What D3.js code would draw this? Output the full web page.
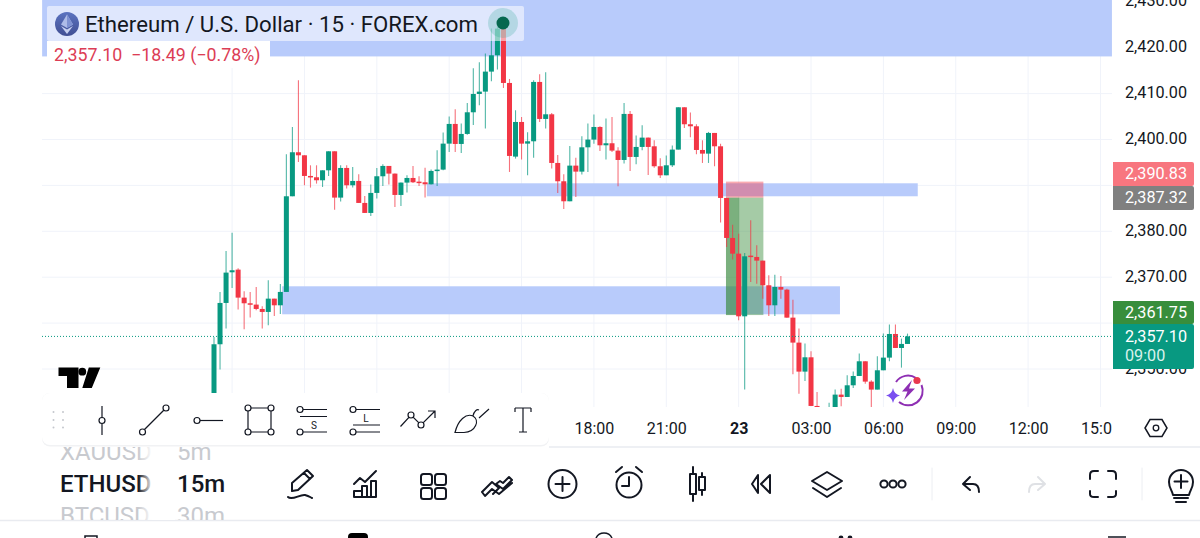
<!DOCTYPE html>
<html><head><meta charset="utf-8">
<script src="https://cdnjs.cloudflare.com/ajax/libs/d3/7.8.5/d3.min.js"></script>
<style>html,body{margin:0;padding:0;background:#fff}svg{display:block;font-family:Roboto,sans-serif}</style>
</head><body><div id="chart"></div>
<script>
const title = "Ethereum / U.S. Dollar · 15 · FOREX.com";
const legendValues = "2,357.10  −18.49 (−0.78%)";
const priceTicks = [2430,2420,2410,2400,2390,2380,2370,2360,2350];
const priceTickLabels = [2430,2420,2410,2400,2380,2370,2350];
const timeTickIndex = [63,75,87,99,111,123,135,147];
const timeTickLabels = ["18:00","21:00","23","03:00","06:00","09:00","12:00","15:00"];
const gridIndex = [3,15,27,39,51,63,75,87,99,111,123,135,147];
const opens = [2342,2355.39,2364.39,2371.07,2371.65,2365.55,2364.32,2364.03,2363.08,2362.43,2365.33,2363.88,2366.79,2387.63,2397.22,2396.56,2392.06,2391.77,2391.12,2393.29,2397.43,2387.34,2393.8,2390.03,2390.97,2386.18,2384,2388.36,2391.99,2394.24,2392.57,2387.92,2390.61,2391.62,2390.82,2390.68,2390.24,2393.15,2393.44,2399.1,2403.39,2399.03,2401.21,2405.93,2409.92,2410.43,2414.79,2418.35,2424.16,2412.32,2396.27,2403.82,2399.1,2399.61,2412.54,2404.48,2405.49,2394.89,2390.9,2386.54,2394.31,2393,2398.3,2399.98,2402.73,2398.74,2399.18,2397.58,2395.54,2405.57,2396.2,2398.38,2400.41,2398.52,2394.17,2392.2,2394.38,2397.8,2407.02,2403.32,2402.88,2397.72,2396.92,2401.43,2398.52,2387.26,2378.55,2375.13,2361.48,2374.7,2374.41,2373.61,2368.24,2363.88,2367.87,2367.29,2361.19,2355.75,2349.43,2352.55,2341.95,2341,2339,2341.5,2344.42,2343.91,2346.45,2348.48,2351.68,2347.25,2345.51,2349.72,2352.48,2357.63,2354.58,2355.46];
const closes = [2355.39,2364.39,2371,2371.51,2365.55,2364.32,2364.03,2363.08,2362.43,2365.33,2363.88,2366.79,2387.63,2397.22,2396.56,2392.06,2391.77,2391.12,2393.29,2397.43,2387.34,2393.8,2390.03,2390.97,2386.18,2384,2388.36,2391.99,2394.24,2392.57,2387.92,2390.61,2391.62,2390.68,2390.68,2390.24,2393.15,2393.44,2399.1,2403.39,2399.03,2401.21,2405.93,2409.92,2410.43,2414.79,2418.35,2424.16,2412.32,2396.42,2403.82,2399.1,2399.61,2412.54,2404.48,2405.49,2394.89,2390.9,2386.54,2394.31,2393,2398.3,2399.98,2402.73,2398.74,2399.18,2397.58,2395.54,2405.57,2396.2,2398.38,2400.41,2398.38,2394.17,2392.2,2394.38,2397.8,2407.02,2403.32,2402.88,2397.72,2396.92,2401.43,2398.52,2387.27,2378.55,2375.13,2361.48,2374.55,2374.41,2373.61,2368.24,2363.88,2367.87,2367.29,2361.19,2355.75,2349.43,2352.55,2341.95,2341.5,2339,2341.5,2344.42,2343.91,2346.45,2348.48,2351.68,2347.25,2345.51,2349.72,2352.48,2357.63,2354.58,2355.46,2357.1];
const highs = [2356.98,2366.79,2375.72,2379.71,2371.94,2366.93,2366.79,2367.88,2363.66,2369.33,2365.33,2368.53,2396.78,2402.73,2412.9,2396.56,2394.38,2394.38,2393.29,2397.43,2397.43,2394.38,2394.38,2394.02,2392.42,2387.7,2390.17,2393.8,2394.6,2394.24,2392.57,2390.61,2392.2,2394.24,2391.99,2393.87,2393.44,2397.65,2401.5,2404.99,2406.58,2403.46,2407.96,2415.52,2416.82,2418.71,2424.16,2425.25,2425.25,2413.19,2406.37,2404.91,2401.57,2412.9,2414.21,2414.64,2405.78,2396.63,2392.42,2398.6,2396.05,2400.7,2403.46,2405.42,2402.88,2404.55,2404.91,2398.3,2407.96,2406.22,2400.85,2403.1,2400.41,2399.83,2395.91,2396.49,2398.67,2407.02,2407.02,2405.86,2403.32,2399.83,2401.65,2401.43,2399.1,2387.26,2381.45,2379.49,2375.28,2382.4,2376.95,2373.61,2370.41,2370.56,2370.27,2367.51,2365.11,2358.8,2355.53,2353.86,2345,2341.3,2342.67,2345.51,2345.72,2348.63,2349.43,2353.35,2351.68,2347.54,2352.77,2357.71,2359.67,2359.67,2356.62,2357.71];
const lows = [2338,2349.87,2358.8,2367.66,2362.94,2358.65,2361.2,2362.79,2358.8,2359.53,2361.56,2362,2366.79,2387.63,2395.11,2390.03,2389.52,2390.39,2389.66,2392.06,2384.72,2386.47,2389.3,2389.52,2386.18,2384,2383.35,2387.12,2389.88,2390.17,2385.31,2385.52,2388.43,2390.53,2389.88,2387.34,2390.17,2389.88,2393.29,2397.29,2397.29,2397.07,2401.06,2403.17,2407.45,2402.37,2412.68,2415.23,2411.23,2392.93,2395.84,2395.62,2392.2,2396.05,2403.82,2402.37,2393.66,2388.36,2384.87,2386.54,2387.48,2392.35,2392.93,2399.1,2397.51,2395.62,2397.29,2389.81,2394.75,2393.15,2394.6,2397.65,2392.28,2393.87,2391.62,2392.2,2394.02,2397.8,2402.52,2400.48,2396.78,2394.89,2394.89,2394.17,2381.89,2376.59,2373.83,2360.61,2345.51,2368.96,2368.6,2365.33,2361.55,2361.55,2365.33,2361.19,2348.85,2344.63,2347.39,2341.95,2340.5,2338,2338.5,2340.5,2341.88,2343.91,2345.87,2348.48,2346.81,2340.5,2345.51,2349.72,2351.68,2354.58,2350.3,2355.46];
const zoneNames = ["upper","middle","lower"];
const zoneStart = [-28.5,35.3,11.3];
const zoneEnd = [148.9,116.7,103.8];
const zoneTop = [2431,2390.46,2368.02];
const zoneBottom = [2418.1,2387.63,2361.92];
const stopPrice = 2390.83, entryPrice = 2387.32, targetPrice = 2361.75, lastPrice = 2357.10;
const positionStart = 84.9, positionEnd = 91.1, positionInnerEnd = 87.1;
const tools = ["XAUUSD","ETHUSD","BTCUSD"];
const intervals = ["5m","15m","30m"];

const W=1200,H=538, INK="#131722", UP="#089981", DOWN="#f23645";
const svg=d3.select("#chart").append("svg").attr("width",W).attr("height",H);
const defs=svg.append("defs");
defs.append("clipPath").attr("id","pane").append("rect").attr("x",42).attr("y",0).attr("width",1070).attr("height",407);
defs.append("clipPath").attr("id","timeclip").append("rect").attr("x",0).attr("y",407).attr("width",1112).attr("height",40);
defs.append("clipPath").attr("id","list").append("rect").attr("x",50).attr("y",447).attr("width",190).attr("height",73);
const fade=defs.append("linearGradient").attr("id","fade");
fade.append("stop").attr("offset","0").attr("stop-color","#fff").attr("stop-opacity",0);
fade.append("stop").attr("offset","1").attr("stop-color","#fff");
const grad=defs.append("linearGradient").attr("id","eth").attr("x1",0).attr("y1",0).attr("x2",0).attr("y2",1);
grad.append("stop").attr("offset","0").attr("stop-color","#5b73c0");
grad.append("stop").attr("offset","1").attr("stop-color","#414f94");

const x=d3.scaleLinear().domain([0,115]).range([214,907.5]);
const y=d3.scaleLinear().domain([2350,2420]).range([369,47.7]);
const candles=opens.map((o,i)=>({i,o,c:closes[i],h:highs[i],l:lows[i]}));

const pane=svg.append("g").attr("clip-path","url(#pane)");
pane.append("g").selectAll("line").data(priceTicks).join("line")
 .attr("x1",42).attr("x2",1112).attr("y1",d=>y(d)).attr("y2",d=>y(d)).attr("stroke","#f0f3fa");
pane.append("g").selectAll("line").data(gridIndex).join("line")
 .attr("x1",d=>x(d)).attr("x2",d=>x(d)).attr("y1",0).attr("y2",407).attr("stroke","#f0f3fa");

pane.append("g").selectAll("rect").data(zoneNames).join("rect")
 .attr("x",(d,i)=>x(zoneStart[i])).attr("width",(d,i)=>x(zoneEnd[i])-x(zoneStart[i]))
 .attr("y",(d,i)=>y(zoneTop[i])).attr("height",(d,i)=>y(zoneBottom[i])-y(zoneTop[i]))
 .attr("fill","#b8cbfb");

const pos=pane.append("g");
pos.append("rect").attr("x",x(positionStart)).attr("width",x(positionEnd)-x(positionStart))
 .attr("y",y(stopPrice)).attr("height",y(entryPrice)-y(stopPrice)).attr("fill","#f23645").attr("fill-opacity",.42);
pos.append("rect").attr("x",x(positionStart)).attr("width",x(positionEnd)-x(positionStart))
 .attr("y",y(entryPrice)).attr("height",y(targetPrice)-y(entryPrice)).attr("fill","#3f9142").attr("fill-opacity",.47);
pos.append("rect").attr("x",x(positionStart)).attr("width",x(positionInnerEnd)-x(positionStart))
 .attr("y",y(entryPrice)).attr("height",y(targetPrice)-y(entryPrice)).attr("fill","#2f7f35").attr("fill-opacity",.35);

const col=d=>d.c>=d.o?UP:DOWN;
const cg=pane.append("g");
cg.selectAll("line").data(candles).join("line")
 .attr("x1",d=>x(d.i)).attr("x2",d=>x(d.i)).attr("y1",d=>y(d.h)).attr("y2",d=>y(d.l))
 .attr("stroke",col).attr("stroke-opacity",.7).attr("stroke-width",1.1);
cg.selectAll("rect").data(candles).join("rect")
 .attr("x",d=>x(d.i)-2.5).attr("width",5)
 .attr("y",d=>y(Math.max(d.o,d.c))).attr("height",d=>Math.max(1.5,Math.abs(y(d.o)-y(d.c))))
 .attr("fill",col);

pane.append("line").attr("x1",42).attr("x2",1112).attr("y1",y(lastPrice)).attr("y2",y(lastPrice))
 .attr("stroke",UP).attr("stroke-dasharray","1 2");

// TradingView logo
svg.append("path").attr("fill","#000")
 .attr("d","M58.5 367.5H78.5V388H67V376H58.5Z M88.8 367.5H100.3L91.8 388H82.3Z");
svg.append("circle").attr("cx",82.3).attr("cy",371.7).attr("r",3.9).attr("fill","#000");

// price axis
const yAxis=d3.axisRight(y).tickValues(priceTickLabels).tickSize(0).tickPadding(0).tickFormat(d3.format(",.2f"));
const ya=svg.append("g").attr("transform","translate(1125,-1)").call(yAxis);
ya.select(".domain").remove();
ya.selectAll("text").attr("fill",INK).attr("font-size",16.2).attr("font-family","Roboto");

// price tags
const tags=[[162,24,"#f8767f","2,390.83",173],[186,24,"#808080","2,387.32",197],[301,23,"#388e3c","2,361.75",312],[324,45,"#089981","2,357.10",336]];
const tg=svg.append("g");
tags.forEach(t=>{
 tg.append("path").attr("d",`M1113 ${t[0]}H1192a2 2 0 0 1 2 2V${t[0]+t[1]-2}a2 2 0 0 1 -2 2H1113Z`).attr("fill",t[2]);
 tg.append("text").attr("x",1125).attr("y",t[4]).attr("dy",".35em").attr("fill","#fff").attr("font-size",16.2).text(t[3]);
});
tg.append("text").attr("x",1125).attr("y",355).attr("dy",".35em").attr("fill","#d9f2ec").attr("font-size",16.2).text("09:00");

// time axis
const xAxis=d3.axisBottom(x).tickValues(timeTickIndex).tickSize(0).tickPadding(0).tickFormat((d,i)=>timeTickLabels[i]);
const xa=svg.append("g").attr("clip-path","url(#timeclip)").append("g").attr("transform","translate(0,420)").call(xAxis);
xa.select(".domain").remove();
xa.selectAll("text").attr("fill",INK).attr("font-size",16).attr("font-family","Roboto").attr("dy",".35em")
  .attr("y",8).attr("font-weight",(d,i)=>timeTickLabels[i]==="23"?700:400);

svg.append("line").attr("x1",549).attr("x2",1200).attr("y1",447).attr("y2",447).attr("stroke","#e9ebf0").attr("stroke-width",1.5);
svg.append("line").attr("x1",0).attr("x2",1200).attr("y1",520.5).attr("y2",520.5).attr("stroke","#e9ebf0").attr("stroke-width",1.5);

// legend
const leg=svg.append("g");
leg.append("rect").attr("x",47).attr("y",6).attr("width",477).attr("height",35).attr("fill","#fff").attr("fill-opacity",.55).attr("rx",2);
leg.append("rect").attr("x",47).attr("y",41).attr("width",223).attr("height",27).attr("fill","#fff");
leg.append("circle").attr("cx",67).attr("cy",24).attr("r",12).attr("fill","url(#eth)");
leg.append("path").attr("d","M67 14.5L73 24.5L67 28L61 24.5Z").attr("fill","#aebce8");
leg.append("path").attr("d","M67 14.5L73 24.5L67 28Z").attr("fill","#7f92d2");
leg.append("path").attr("d","M61 26L67 29.5L73 26L67 34Z").attr("fill","#c6d0f0");
leg.append("text").attr("x",85).attr("y",24).attr("dy",".35em").attr("font-size",22.2).attr("fill",INK).text(title);
leg.append("text").attr("x",54).attr("y",55).attr("dy",".35em").attr("font-size",17.8).attr("fill","#dc3d55").attr("xml:space","preserve").style("white-space","pre").text(legendValues);
svg.append("circle").attr("cx",503).attr("cy",23).attr("r",15).attr("fill",UP).attr("fill-opacity",.2);
svg.append("circle").attr("cx",503).attr("cy",23).attr("r",6.5).attr("fill","#05684f");

// lightning badge
const badge=svg.append("g").attr("fill","none");
badge.append("path").attr("d","M896 382A14.5 14.5 0 0 1 916 378").attr("stroke","#8e2fb3").attr("stroke-width",2);
badge.append("path").attr("d","M921.5 385A14.5 14.5 0 0 1 899 402").attr("stroke","#8e2fb3").attr("stroke-width",2);
badge.append("path").attr("d","M912 380L902 391.5H907.5L904 400L915 388.5H909Z").attr("fill","#8e2fb3");
badge.append("circle").attr("cx",917).attr("cy",380.5).attr("r",3.6).attr("fill","#e8384f");
badge.append("path").attr("d","M893 388Q894 394 900 395.5Q894 397 893 403Q892 397 886 395.5Q892 394 893 388Z").attr("fill","#7a4ff0");

// settings hexagon
svg.append("path").attr("d","M1150 419.5H1162L1167 428L1162 436.5H1150L1145 428Z").attr("fill","none").attr("stroke",INK).attr("stroke-width",1.5);
svg.append("circle").attr("cx",1156).attr("cy",428).attr("r",2.8).attr("fill","none").attr("stroke",INK).attr("stroke-width",1.3);

// drawing toolbar
const tb=svg.append("g");
tb.append("rect").attr("x",42).attr("y",393).attr("width",507).attr("height",53.5).attr("rx",8).attr("fill","#f1f2f4");
tb.append("rect").attr("x",42).attr("y",393).attr("width",507).attr("height",52).attr("rx",8).attr("fill","#fff");
[53.5,63].forEach(a=>[412,420,427.5].forEach(b=>tb.append("circle").attr("cx",a).attr("cy",b).attr("r",1).attr("fill","#c4c7cd")));
const ic=tb.append("g").attr("fill","none").attr("stroke",INK).attr("stroke-width",1.2);
const p=d=>ic.append("path").attr("d",d);
const c=(a,b)=>ic.append("circle").attr("cx",a).attr("cy",b).attr("r",3).attr("fill","#fff");
p("M102 406V435");c(102,420.5);
p("M142 432L166 408");c(142.5,432);c(166,408);
p("M200 420.5H223");c(197,420.5);
p("M248 408H271V432H248Z");[[248,408],[271,408],[248,432],[271,432]].forEach(q=>c(q[0],q[1]));
p("M303 409.5H327M300 416.5H327M303 432H327");c(300,409.5);c(300,432);
p("M356 409.5H380M353 425H380M356 432H380");c(353,409.5);c(353,432);
p("M400.5 426.5L411 415L421 425L435 411M428 411H435V418");c(411,415);c(421,425);
p("M455 432.5C458 420 466 413 473 416C480 420 476 432 464 432.5ZM473 416C474 411 477 409 479 410M479 418L489 409");
p("M515 408H531M515 408V412M531 408V412M523 408V432M519 432H527");
tb.append("text").attr("x",314).attr("y",425).attr("dy",".35em").attr("text-anchor","middle").attr("font-size",10).attr("fill",INK).text("S");
tb.append("text").attr("x",366).attr("y",418).attr("dy",".35em").attr("text-anchor","middle").attr("font-size",10).attr("fill",INK).text("L");

// ticker list
const list=svg.append("g").attr("clip-path","url(#list)");
tools.forEach((t,i)=>{
  const yy=[452,484,516][i], on=i===1;
  list.append("text").attr("x",60).attr("y",yy).attr("dy",".35em").attr("font-size",24).attr("font-weight",on?500:400).attr("fill",on?INK:"#c8cacf").text(t);
  list.append("text").attr("x",177).attr("y",yy).attr("dy",".35em").attr("font-size",24).attr("font-weight",on?500:400).attr("fill",on?INK:"#c8cacf").text(intervals[i]);
});
svg.append("rect").attr("x",138).attr("y",447).attr("width",15).attr("height",73).attr("fill","url(#fade)");
svg.append("rect").attr("x",153).attr("y",447).attr("width",22).attr("height",73).attr("fill","#fff");

// bottom toolbar icons
const bi=svg.append("g").attr("fill","none").attr("stroke",INK).attr("stroke-width",2).attr("stroke-linecap","round").attr("stroke-linejoin","round");
const P=(d,col)=>bi.append("path").attr("d",d).attr("stroke",col||INK);
const C=(a,b,r)=>bi.append("circle").attr("cx",a).attr("cy",b).attr("r",r);
P("M292 483L307 470L313 476L298 490L292 491ZM304 473L310 479M288 497C292 501 300 494 305 495C309 496 310 497 312 498");
P("M354 491V497H376V481H371V497M362 497V486H367V497M354 491H362M354 484L360 478L365 482L376 471");
[[421,474],[435,474],[421,488],[435,488]].forEach(q=>bi.append("rect").attr("x",q[0]).attr("y",q[1]).attr("width",11).attr("height",11).attr("rx",2.5));
P("M482 492L492 482L499 488L493 494M482 492L485 496L492 489L499 494L512 483M496 484L503 489L512 480L509 477L503 483L500 481Z");
C(562.5,484,14);P("M562.5 477V491M555.5 484H569.5");
C(629,485,12.5);P("M629 477V486H622M616 472L622 467M642 472L636 467");
P("M690 474H696V494H690ZM693 467V474M693 494V501M699 477H705V490H699ZM702 473V477M702 490V495");
P("M758 475L752 484L758 493ZM770 475L761 484L770 493Z");
P("M827 472L842 481L827 490L812 481ZM813 488L827 497L841 488");
C(884,484,3.6);C(893,484,3.6);C(902,484,3.6);
P("M963 484L970 477M963 484L970 490M963 484H973C977 484 979 487 979 492");
P("M1045 484L1038 477M1045 484L1038 490M1045 484H1035C1031 484 1029 487 1029 492","#dfe1e5");
P("M1090 479V475Q1090 471 1094 471H1098M1108 471H1112Q1116 471 1116 475V479M1116 491V494Q1116 497 1112 497H1108M1098 497H1094Q1090 497 1090 494V491");
P("M1173 495C1172 490 1169 488 1169 482A12 12 0 0 1 1193 482C1193 488 1190 490 1189 495ZM1181 475V488M1174.5 481.5H1187.5M1174 498H1188M1176 502H1186");
bi.append("line").attr("x1",932).attr("x2",932).attr("y1",468).attr("y2",500).attr("stroke","#eceef2").attr("stroke-width",1);
bi.append("line").attr("x1",1142).attr("x2",1142).attr("y1",468).attr("y2",500).attr("stroke","#eceef2").attr("stroke-width",1);

// phone nav fragments
const nav=svg.append("g");
nav.append("path").attr("d","M85 538V536H97V538").attr("fill","none").attr("stroke",INK).attr("stroke-width",1.5);
nav.append("path").attr("d","M348 538V537Q348 533 352 533H364Q368 533 368 537V538Z").attr("fill","#000");
nav.append("path").attr("d","M596 538A9 9 0 0 1 612 538").attr("fill","none").attr("stroke",INK).attr("stroke-width",1.5);
nav.append("circle").attr("cx",841).attr("cy",538).attr("r",2.4).attr("fill",INK);
nav.append("circle").attr("cx",850).attr("cy",538).attr("r",2.4).attr("fill",INK);
nav.append("path").attr("d","M1108 537H1126").attr("stroke",INK).attr("stroke-width",1.5);
</script></body></html>
